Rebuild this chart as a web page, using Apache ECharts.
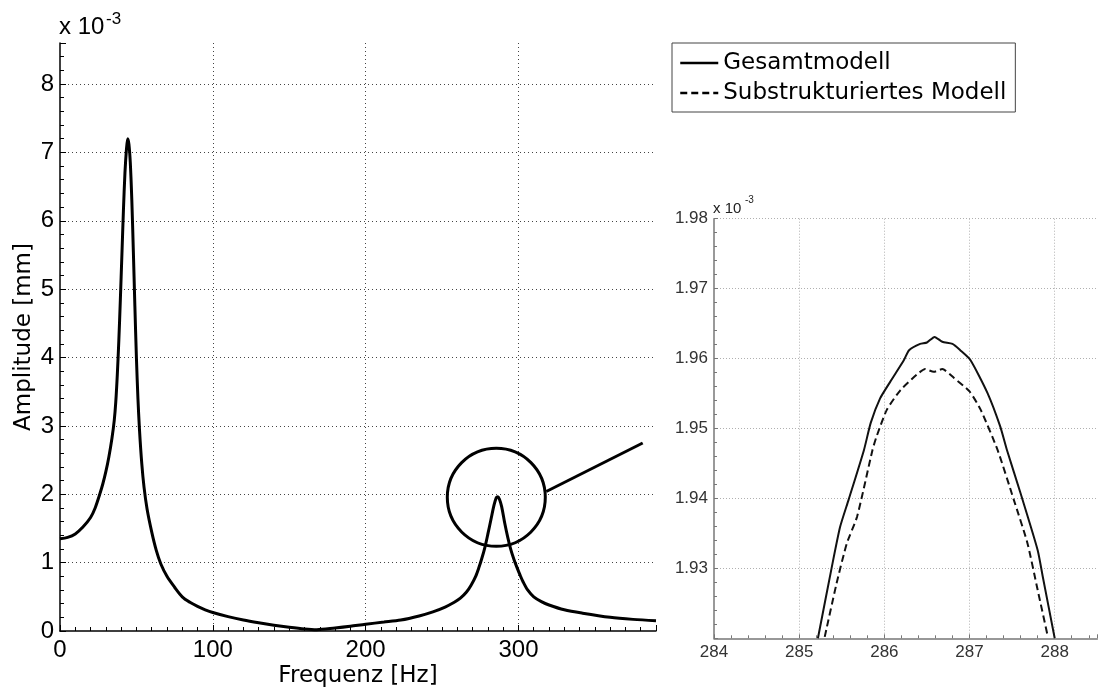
<!DOCTYPE html>
<html>
<head>
<meta charset="utf-8">
<script src="https://cdn.jsdelivr.net/npm/echarts@6.0.0/dist/echarts.min.js"></script>
<style>
  html, body { margin: 0; padding: 0; background: #fff; }
  #chart { width: 1101px; height: 688px; }
</style>
</head>
<body>
<div id="chart"></div>
<script>
// Frequenzgang, gesamter Bereich (Werte in 1e-3 mm)
const freqMain = [0, 5, 10, 15, 20, 23, 26, 28, 30, 32,
  34, 35.5, 36.5, 37.5, 38.5, 39.5, 40.5, 41.5, 42.5, 43.5,
  44.3, 45.1, 46, 47, 48, 49, 50, 51, 52, 53.5,
  55, 57, 60, 63, 66, 70, 75, 80, 85, 90,
  95, 100, 110, 120, 130, 140, 150, 160, 168, 180,
  190, 200, 212, 223, 235, 244, 252, 258, 262, 266,
  269, 272, 274, 276, 278, 280, 282, 284, 285.5, 286.5,
  287.5, 289, 291, 293, 295, 297, 299, 301, 303, 306,
  310, 315, 320, 330, 342, 360, 375, 390]
const ampMain = [1.35, 1.37, 1.42, 1.52, 1.66, 1.80, 2.0, 2.15, 2.33, 2.55,
  2.82, 3.08, 3.35, 3.75, 4.25, 4.85, 5.5, 6.15, 6.7, 7.05,
  7.2, 7.12, 6.85, 6.3, 5.55, 4.75, 4.0, 3.4, 2.95, 2.45,
  2.1, 1.78, 1.45, 1.18, 0.98, 0.8, 0.64, 0.5, 0.42, 0.36,
  0.31, 0.27, 0.21, 0.16, 0.12, 0.085, 0.055, 0.03, 0.02, 0.045,
  0.07, 0.10, 0.13, 0.16, 0.22, 0.28, 0.35, 0.42, 0.48, 0.57,
  0.67, 0.8, 0.92, 1.06, 1.22, 1.42, 1.63, 1.84, 1.95, 1.965,
  1.93, 1.82, 1.58, 1.37, 1.19, 1.05, 0.93, 0.82, 0.72, 0.6,
  0.5, 0.43, 0.38, 0.31, 0.26, 0.2, 0.17, 0.15]

// Ausschnitt um die zweite Resonanz
const gesamtFreq = [285.22, 285.38, 285.48, 285.58, 285.76, 285.84, 285.95, 286.07, 286.23, 286.29,
  286.42, 286.50, 286.59, 286.68, 286.80, 286.89, 287.01, 287.21, 287.36, 287.44,
  287.60, 287.80, 287.86, 288.00]
const gesamtAmp = [1.9200, 1.9300, 1.9359, 1.9398, 1.9469, 1.9508, 1.9543, 1.9567, 1.9598, 1.9612,
  1.9621, 1.9623, 1.9631, 1.9624, 1.9621, 1.9612, 1.9598, 1.9551, 1.9503, 1.9469,
  1.9407, 1.9326, 1.9288, 1.9200]
const subFreq = [285.30, 285.44, 285.56, 285.68, 285.86, 285.91, 286.03, 286.19, 286.38, 286.48,
  286.58, 286.68, 286.82, 287.00, 287.13, 287.33, 287.52, 287.68, 287.80, 287.92]
const subAmp = [1.9202, 1.9279, 1.9336, 1.9374, 1.9469, 1.9489, 1.9527, 1.9555, 1.9577, 1.9585,
  1.9581, 1.9585, 1.9572, 1.9553, 1.9527, 1.9469, 1.9398, 1.9336, 1.9269, 1.9202]

const seriesNames = ['Gesamtmodell', 'Substrukturiertes Modell']

// Markierung (Kreis + Verbindungslinie) in Datenkoordinaten
const circleCenter = [285.5, 1.955]
const circleRadius = 49
const pointerStart = [318.2, 2.04]
const pointerEnd = [381.3, 2.75]

const pairs = (xs, ys) => xs.map((x, i) => [x, ys[i]])

const chart = echarts.init(document.getElementById('chart'))

const mainFont = 'Liberation Sans'
const nameFont = 'DejaVu Sans'

const dotted = { color: '#444', width: 1, type: [1, 3] }
const dottedLight = { color: '#b0b0b0', width: 1, type: [1, 2] }

const option = {
  backgroundColor: '#fff',
  animation: false,
  legend: {
    orient: 'vertical',
    left: 672,
    top: 43,
    padding: [6, 9, 5, 7],
    itemGap: 2,
    itemWidth: 38,
    itemHeight: 14,
    borderColor: '#444',
    borderWidth: 1,
    backgroundColor: '#fff',
    selectedMode: false,
    data: seriesNames,
    // nur Linie im Legendensymbol, kein Punkt
    itemStyle: { color: 'rgba(0,0,0,0)', borderWidth: 0, opacity: 0 },
    lineStyle: { width: 2.5, color: '#000', opacity: 1 },
    textStyle: { fontFamily: nameFont, fontSize: 23, color: '#000', lineHeight: 28 }
  },
  grid: [
    { left: 60, top: 43, width: 596, height: 588, outerBoundsMode: 'none', containLabel: false },
    { left: 714, top: 218.7, width: 383.3, height: 419.6, outerBoundsMode: 'none', containLabel: false }
  ],
  xAxis: [
    {
      type: 'value', gridIndex: 0, min: 0, max: 390, interval: 100,
      name: 'Frequenz [Hz]', nameLocation: 'middle', nameGap: 34, nameMoveOverlap: false,
      nameTextStyle: { fontFamily: nameFont, fontSize: 23, color: '#000' },
      axisLine: { onZero: false, lineStyle: { color: '#000', width: 1.5 } },
      axisTick: { inside: true, length: 6, lineStyle: { color: '#000' } },
      minorTick: { show: true, splitNumber: 10, length: 4, lineStyle: { color: '#000' } },
      axisLabel: { fontFamily: mainFont, fontSize: 24, color: '#000', margin: 7, showMaxLabel: false, hideOverlap: false },
      splitLine: { show: true, showMinLine: false, showMaxLine: false, lineStyle: dotted }
    },
    {
      type: 'value', gridIndex: 1, min: 284, max: 288.5, interval: 1,
      axisLine: { onZero: false, lineStyle: { color: '#777', width: 1.5 } },
      axisTick: { inside: true, length: 4, lineStyle: { color: '#777' } },
      minorTick: { show: true, splitNumber: 5, length: 3, lineStyle: { color: '#777' } },
      axisLabel: { fontFamily: mainFont, fontSize: 17, color: '#333', margin: 6, showMaxLabel: false, hideOverlap: false },
      splitLine: { show: true, showMinLine: false, showMaxLine: false, lineStyle: dottedLight }
    }
  ],
  yAxis: [
    {
      type: 'value', gridIndex: 0, min: 0, max: 8.6, interval: 1,
      name: 'Amplitude [mm]', nameLocation: 'middle', nameGap: 24, nameRotate: 90, nameMoveOverlap: false,
      nameTextStyle: { fontFamily: nameFont, fontSize: 23, color: '#000' },
      axisLine: { onZero: false, lineStyle: { color: '#000', width: 1.5 } },
      axisTick: { inside: true, length: 6, lineStyle: { color: '#000' } },
      minorTick: { show: true, splitNumber: 5, length: 4, lineStyle: { color: '#000' } },
      axisLabel: { fontFamily: mainFont, fontSize: 24, color: '#000', margin: 6, showMaxLabel: false, hideOverlap: false },
      splitLine: { show: true, showMinLine: false, showMaxLine: false, lineStyle: dotted }
    },
    {
      type: 'value', gridIndex: 1, min: 1.92, max: 1.98, interval: 0.01,
      axisLine: { onZero: false, lineStyle: { color: '#777', width: 1.5 } },
      axisTick: { inside: true, length: 4, lineStyle: { color: '#777' } },
      minorTick: { show: true, splitNumber: 5, length: 3, lineStyle: { color: '#777' } },
      axisLabel: { fontFamily: mainFont, fontSize: 17, color: '#333', margin: 6, showMinLabel: false, hideOverlap: false,
        formatter: (v) => v.toFixed(2) },
      splitLine: { show: true, showMinLine: false, showMaxLine: true, lineStyle: dottedLight }
    }
  ],
  series: [
    {
      name: 'main', type: 'line', xAxisIndex: 0, yAxisIndex: 0,
      data: pairs(freqMain, ampMain),
      symbol: 'none', smooth: 0.3, silent: true,
      lineStyle: { color: '#000', width: 3 }
    },
    {
      name: seriesNames[0], type: 'line', xAxisIndex: 1, yAxisIndex: 1,
      data: pairs(gesamtFreq, gesamtAmp),
      symbol: 'none', smooth: 0.2, clip: true,
      itemStyle: { color: '#111' },
      lineStyle: { color: '#111', width: 2 }
    },
    {
      name: seriesNames[1], type: 'line', xAxisIndex: 1, yAxisIndex: 1,
      data: pairs(subFreq, subAmp),
      symbol: 'none', smooth: 0.2, clip: true,
      itemStyle: { color: '#111' },
      lineStyle: { color: '#111', width: 2, type: [7, 4] }
    }
  ]
}

chart.setOption(option)

// Exponent-Beschriftungen und Markierung
const c = chart.convertToPixel({ gridIndex: 0 }, circleCenter)
const p0 = chart.convertToPixel({ gridIndex: 0 }, pointerStart)
const p1 = chart.convertToPixel({ gridIndex: 0 }, pointerEnd)

chart.setOption({
  graphic: [
    { type: 'text', left: 59, top: 15, style: { text: 'x 10', fontFamily: mainFont, fontSize: 24, fill: '#000' } },
    { type: 'text', left: 106, top: 11, style: { text: '-3', fontFamily: mainFont, fontSize: 17, fill: '#000' } },
    { type: 'text', left: 713, top: 201, style: { text: 'x 10', fontFamily: mainFont, fontSize: 15, fill: '#222' } },
    { type: 'text', left: 745, top: 195, style: { text: '-3', fontFamily: mainFont, fontSize: 10, fill: '#222' } },
    {
      type: 'circle', silent: true,
      shape: { cx: c[0], cy: c[1], r: circleRadius },
      style: { fill: 'none', stroke: '#000', lineWidth: 3 }
    },
    {
      type: 'line', silent: true,
      shape: { x1: p0[0], y1: p0[1], x2: p1[0], y2: p1[1] },
      style: { stroke: '#000', lineWidth: 3 }
    }
  ]
})
</script>
</body>
</html>
